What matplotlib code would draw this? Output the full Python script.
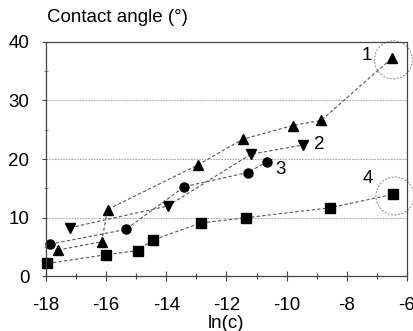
import matplotlib
matplotlib.use("Agg")
import matplotlib.pyplot as plt
from matplotlib.patches import Ellipse
from matplotlib.ticker import MultipleLocator

plt.rcParams['font.family'] = ['Liberation Sans', 'DejaVu Sans']
plt.rcParams['axes.unicode_minus'] = False

x1 = [-17.6, -16.15, -15.95, -12.95, -11.45, -9.8, -8.85, -6.5]
y1 = [4.5, 5.9, 11.4, 19.0, 23.4, 25.7, 26.6, 37.2]
x2 = [-17.2, -13.95, -11.2, -9.45]
y2 = [8.3, 12.0, 20.8, 22.4]
x3 = [-17.85, -15.35, -13.4, -11.3, -10.65]
y3 = [5.5, 8.0, 15.3, 17.7, 19.5]
x4 = [-17.95, -16.0, -14.95, -14.45, -12.85, -11.35, -8.55, -6.45]
y4 = [2.2, 3.7, 4.4, 6.2, 9.1, 10.0, 11.7, 14.0]

labels = ['1', '2', '3', '4']
label_x = [-7.35, -8.9, -10.2, -7.3]
label_y = [37.6, 22.4, 18.2, 16.6]

fig = plt.figure(figsize=(4.14, 3.31), dpi=100)
ax = fig.add_axes([0.111, 0.165, 0.872, 0.709])

ax.set_xlim(-18, -6)
ax.set_ylim(0, 40)

for y in (10, 20, 30):
    ax.axhline(y, color='#aaaaaa', lw=0.8, ls=(0, (1.5, 1)), zorder=0)

lk = dict(color='#555555', lw=0.8, ls=(0, (3, 2)), mfc='black', mec='black', clip_on=False)
ax.plot(x1, y1, marker='^', ms=7, **lk)
ax.plot(x2, y2, marker='v', ms=7, **lk)
ax.plot(x3, y3, marker='o', ms=6.5, **lk)
ax.plot(x4, y4, marker='s', ms=6.5, **lk)

for t, tx, ty in zip(labels, label_x, label_y):
    ax.text(tx, ty, t, fontsize=13.5, ha='center', va='center')

# dashed circles around end points
for cx, cy in ((x1[-1], y1[-1]), (x4[-1], y4[-1])):
    e = Ellipse((cx + 0.05, cy - 0.3), width=38 / 30.05, height=38 / 5.86, fill=False,
                ec='#888888', lw=0.7, ls=(0, (2, 1.5)), clip_on=False)
    ax.add_patch(e)

ax.xaxis.set_major_locator(MultipleLocator(2))
ax.xaxis.set_minor_locator(MultipleLocator(1))
ax.yaxis.set_major_locator(MultipleLocator(10))
ax.yaxis.set_minor_locator(MultipleLocator(5))
ax.tick_params(axis='x', which='major', direction='inout', length=7, width=0.8, color='#444444', labelsize=13.5, pad=11)
ax.tick_params(axis='x', which='minor', direction='inout', length=5, width=0.8, color='#444444')
ax.tick_params(axis='y', which='major', direction='out', length=3, width=0.8, color='#444444', labelsize=13.5, pad=9)
ax.tick_params(axis='y', which='minor', direction='inout', length=3, width=0.8, color='#888888')

for s in ax.spines.values():
    s.set_color('#444444')
    s.set_linewidth(0.9)

ax.set_xlabel('ln(c)', fontsize=13.5, labelpad=1)
fig.text(0.113, 0.948, 'Contact angle (°)', fontsize=13.5, ha='left', va='center')

fig.savefig('out.png', dpi=100)
